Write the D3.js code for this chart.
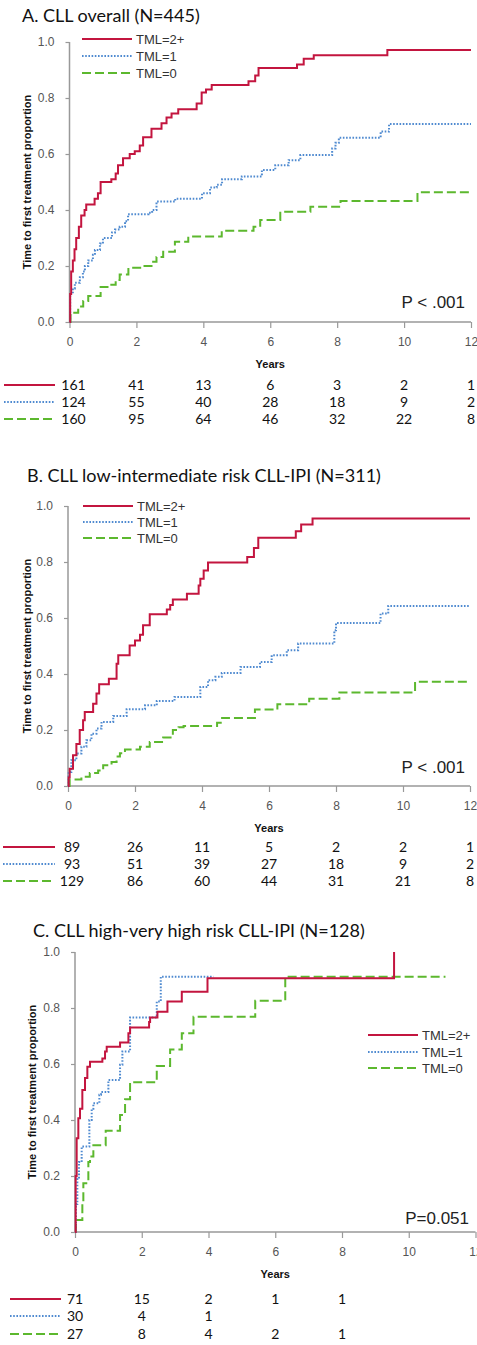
<!DOCTYPE html>
<html>
<head>
<meta charset="utf-8">
<script src="https://cdn.jsdelivr.net/npm/d3@7"></script>
<style>
  body { margin: 0; background: #fff; }
  svg { display: block; }
  .title { font-family: Lato, "Open Sans", sans-serif; font-size: 18px; fill: #111; }
  .tick text { font-family: "Liberation Sans", Arial, sans-serif; font-size: 12px; fill: #555; }
  .axislabel { font-family: "Liberation Sans", Arial, sans-serif; font-size: 11px; font-weight: bold; fill: #111; }
  .legend { font-family: "Liberation Sans", Arial, sans-serif; font-size: 13px; fill: #333; }
  .pval { font-family: "Liberation Sans", Arial, sans-serif; font-size: 17px; fill: #222; }
  .risk { font-family: Lato, "Open Sans", sans-serif; font-size: 14px; fill: #111; }
</style>
</head>
<body>
<div id="chart"></div>
<script>

// series names, in legend order
const groups = ["TML=2+", "TML=1", "TML=0"];
const yearTicks = [0, 2, 4, 6, 8, 10, 12];
const propTicks = [0, 0.2, 0.4, 0.6, 0.8, 1.0];

// A. CLL overall - step curves [years, cumulative proportion]
const a_tml2 = [[0,0],[0.02,0.10],[0.05,0.18],[0.1,0.22],[0.15,0.26],[0.2,0.30],[0.28,0.34],[0.35,0.38],[0.45,0.40],[0.5,0.42],[0.75,0.44],[0.85,0.46],[0.93,0.50],[1.25,0.51],[1.38,0.53],[1.45,0.56],[1.6,0.585],[1.8,0.60],[1.95,0.61],[2.1,0.63],[2.2,0.66],[2.45,0.69],[2.75,0.71],[2.9,0.73],[3.05,0.745],[3.25,0.76],[3.8,0.78],[3.95,0.82],[4.08,0.83],[4.25,0.846],[5.35,0.86],[5.55,0.88],[5.65,0.907],[6.8,0.92],[7.0,0.94],[7.3,0.953],[9.5,0.971]];
const a_tml1 = [[0,0],[0.02,0.10],[0.1,0.12],[0.16,0.14],[0.31,0.16],[0.4,0.18],[0.46,0.20],[0.56,0.22],[0.7,0.24],[0.76,0.257],[0.91,0.28],[1.0,0.30],[1.27,0.32],[1.36,0.33],[1.5,0.34],[1.66,0.36],[1.75,0.385],[2.36,0.39],[2.47,0.40],[2.6,0.43],[3.16,0.44],[3.96,0.46],[4.2,0.48],[4.4,0.49],[4.56,0.51],[5.15,0.52],[5.75,0.543],[6.15,0.56],[6.55,0.578],[6.9,0.596],[7.85,0.62],[7.95,0.64],[8.05,0.658],[9.3,0.68],[9.55,0.707]];
const a_tml0 = [[0,0],[0.03,0.033],[0.26,0.055],[0.41,0.075],[0.56,0.093],[0.93,0.125],[1.25,0.133],[1.38,0.15],[1.5,0.17],[1.76,0.194],[2.2,0.2],[2.5,0.215],[2.6,0.232],[2.8,0.251],[3.15,0.287],[3.55,0.305],[4.55,0.326],[5.5,0.34],[5.7,0.364],[6.3,0.394],[7.2,0.412],[8.1,0.432],[10.4,0.463]];
const a_ends = [12, 12, 12];
const a_risk = [[161,41,13,6,3,2,1],[124,55,40,28,18,9,2],[160,95,64,46,32,22,8]];

// B. low-intermediate risk CLL-IPI
const b_tml2 = [[0,0],[0.02,0.03],[0.05,0.062],[0.15,0.11],[0.25,0.15],[0.35,0.2],[0.45,0.235],[0.5,0.264],[0.75,0.294],[0.85,0.33],[0.93,0.363],[1.22,0.383],[1.45,0.437],[1.5,0.467],[1.84,0.502],[2.0,0.52],[2.15,0.54],[2.24,0.574],[2.44,0.613],[2.95,0.63],[3.05,0.646],[3.13,0.666],[3.55,0.687],[3.9,0.716],[3.95,0.74],[4.05,0.77],[4.18,0.798],[5.35,0.818],[5.55,0.85],[5.68,0.887],[6.8,0.91],[6.96,0.934],[7.3,0.955]];
const b_tml1 = [[0,0],[0.02,0.05],[0.1,0.092],[0.25,0.116],[0.4,0.14],[0.55,0.163],[0.7,0.187],[0.85,0.205],[1.0,0.229],[1.35,0.25],[1.75,0.274],[2.3,0.288],[2.65,0.304],[3.18,0.318],[3.95,0.354],[4.18,0.378],[4.4,0.39],[4.59,0.404],[5.15,0.425],[5.73,0.443],[6.08,0.467],[6.53,0.485],[6.87,0.509],[7.95,0.556],[8.0,0.582],[9.33,0.616],[9.56,0.643]];
const b_tml0 = [[0,0],[0.05,0.023],[0.4,0.033],[0.65,0.046],[0.9,0.055],[1.05,0.074],[1.3,0.086],[1.45,0.105],[1.55,0.117],[1.7,0.13],[2.15,0.14],[2.44,0.157],[2.84,0.173],[3.13,0.2],[3.3,0.21],[3.45,0.214],[4.45,0.226],[4.6,0.243],[5.58,0.273],[6.25,0.292],[7.2,0.312],[8.1,0.334],[10.36,0.372]];
const b_ends = [12, 12, 12];
const b_risk = [[89,26,11,5,2,2,1],[93,51,39,27,18,9,2],[129,86,60,44,31,21,8]];

// C. high-very high risk CLL-IPI
const c_tml2 = [[0,0],[0.02,0.2],[0.05,0.335],[0.1,0.406],[0.15,0.44],[0.22,0.507],[0.3,0.55],[0.37,0.59],[0.45,0.608],[0.82,0.62],[0.9,0.645],[0.95,0.662],[1.35,0.677],[1.6,0.71],[1.65,0.73],[2.22,0.75],[2.25,0.766],[2.47,0.787],[2.77,0.823],[3.2,0.858],[3.97,0.906],[9.56,1.0]];
const c_tml1 = [[0,0],[0.03,0.1],[0.07,0.19],[0.12,0.25],[0.2,0.305],[0.43,0.4],[0.5,0.44],[0.55,0.46],[0.73,0.49],[0.78,0.50],[1.0,0.543],[1.35,0.597],[1.42,0.645],[1.65,0.766],[2.45,0.823],[2.57,0.912]];
const c_tml0 = [[0,0],[0.03,0.043],[0.22,0.1],[0.25,0.174],[0.4,0.25],[0.45,0.27],[0.55,0.31],[0.92,0.362],[1.35,0.418],[1.5,0.474],[1.65,0.535],[2.45,0.593],[2.85,0.652],[3.2,0.71],[3.55,0.769],[5.4,0.826],[6.3,0.912]];
const c_ends = [9.56, 4.15, 11.1];
const c_risk = [[71,15,2,1,1],[30,4,1],[27,8,4,2,1]];

const colors = ["#c3153f", "#4f8ad0", "#5cb82e"];
const dashes = [null, "1.6,1.6", "9,4"];
const widths = [2, 2, 2];

const W = 477, H = 1345;
const svg = d3.select("#chart").append("svg")
    .attr("width", W)
    .attr("height", H);

const panels = [
    {title: "A. CLL overall (N=445)", tx: 22, ty: 22, x0: 69.5, x1: 471, y0: 322, y1: 42,
     series: [a_tml2, a_tml1, a_tml0], ends: a_ends, risk: a_risk,
     legX: 82, legY: [39, 56, 73], pval: "P < .001", px: 465, py: 308,
     riskY: [385, 402, 419], riskLine: [4, 55], shift: 4, labX: 31},
    {title: "B. CLL low-intermediate risk CLL-IPI (N=311)", tx: 27, ty: 482, x0: 68, x1: 470, y0: 786, y1: 506,
     series: [b_tml2, b_tml1, b_tml0], ends: b_ends, risk: b_risk,
     legX: 83, legY: [506, 522, 538], pval: "P < .001", px: 465, py: 773,
     riskY: [847, 864, 881], riskLine: [3, 55], shift: 4, labX: 31},
    {title: "C. CLL high-very high risk CLL-IPI (N=128)", tx: 33, ty: 937, x0: 75, x1: 475.5, y0: 1232, y1: 952,
     series: [c_tml2, c_tml1, c_tml0], ends: c_ends, risk: c_risk,
     legX: 368, legY: [1035, 1052, 1068], pval: "P=0.051", px: 469, py: 1224,
     riskY: [1299, 1316, 1334], riskLine: [10, 61], shift: 0, labX: 36}
];

function styleLine(sel, i) {
    sel.attr("fill", "none")
        .attr("stroke", colors[i])
        .attr("stroke-width", widths[i]);
    if (dashes[i]) sel.attr("stroke-dasharray", dashes[i]);
    return sel;
}

panels.forEach(function(p) {
    let g = svg.append("g");
    let x = d3.scaleLinear().domain([0, 12]).range([p.x0, p.x1]);
    let y = d3.scaleLinear().domain([0, 1]).range([p.y0, p.y1]);

    g.append("text").attr("class", "title")
        .attr("x", p.tx).attr("y", p.ty)
        .text(p.title);

    let yAxis = g.append("g")
        .attr("transform", "translate(" + p.x0 + ",0)")
        .call(d3.axisLeft(y).tickValues(propTicks).tickFormat(d3.format(".1f")).tickSize(4).tickPadding(11));
    let xAxis = g.append("g")
        .attr("transform", "translate(0," + p.y0 + ")")
        .call(d3.axisBottom(x).tickValues(yearTicks).tickSize(6).tickPadding(9));
    [xAxis, yAxis].forEach(function(a) {
        a.select(".domain").attr("stroke", "#999").attr("stroke-width", 1.5);
        a.selectAll(".tick line").attr("stroke", "#999").attr("stroke-width", 1.2);
    });
    yAxis.select(".domain").attr("d", "M" + 0 + "," + p.y0 + "V" + p.y1);
    xAxis.select(".domain").attr("d", "M" + p.x0 + ",0H" + p.x1);

    g.append("text").attr("class", "axislabel")
        .attr("transform", "translate(" + p.labX + "," + ((p.y0 + p.y1) / 2) + ") rotate(-90)")
        .attr("text-anchor", "middle")
        .text("Time to first treatment proportion");
    g.append("text").attr("class", "axislabel")
        .attr("x", (p.x0 + p.x1) / 2).attr("y", p.y0 + 46)
        .attr("text-anchor", "middle")
        .text("Years");

    let line = d3.line()
        .x(function(d) { return x(d[0]); })
        .y(function(d) { return y(d[1]); })
        .curve(d3.curveStepAfter);

    // draw green first so red stays on top
    [2, 1, 0].forEach(function(i) {
        let pts = p.series[i].slice();
        let last = pts[pts.length - 1];
        if (p.ends[i] > last[0]) pts.push([p.ends[i], last[1]]);
        styleLine(g.append("path").attr("d", line(pts)), i);
    });

    // legend
    groups.forEach(function(name, i) {
        styleLine(g.append("line")
            .attr("x1", p.legX).attr("x2", p.legX + 50)
            .attr("y1", p.legY[i]).attr("y2", p.legY[i]), i);
        g.append("text").attr("class", "legend")
            .attr("x", p.legX + 54).attr("y", p.legY[i] + 5)
            .text(name);
    });

    g.append("text").attr("class", "pval")
        .attr("x", p.px).attr("y", p.py)
        .attr("text-anchor", "end")
        .text(p.pval);

    // numbers at risk
    p.risk.forEach(function(row, i) {
        styleLine(g.append("line")
            .attr("x1", p.riskLine[0]).attr("x2", p.riskLine[1])
            .attr("y1", p.riskY[i]).attr("y2", p.riskY[i]), i);
        g.selectAll(null).data(row).enter().append("text")
            .attr("class", "risk")
            .attr("x", function(d, j) { return x(yearTicks[j]) + (j == 0 ? p.shift : 0); })
            .attr("y", p.riskY[i] + 5)
            .attr("text-anchor", "middle")
            .text(function(d) { return d; });
    });
});

</script>
</body>
</html>
